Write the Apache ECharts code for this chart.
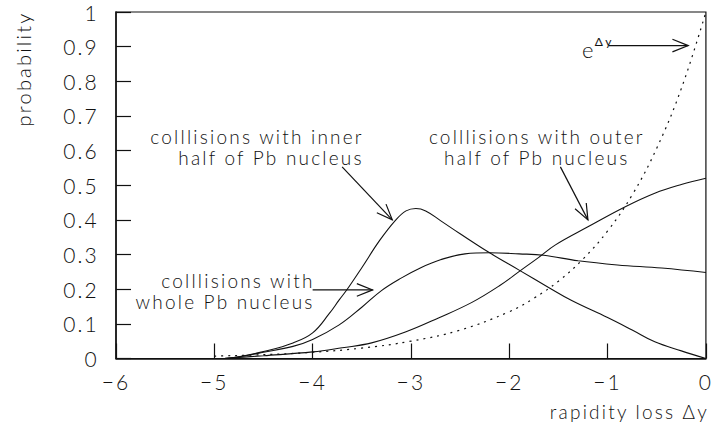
<!DOCTYPE html>
<html>
<head>
<meta charset="utf-8">
<script src="https://cdn.jsdelivr.net/npm/echarts@6/dist/echarts.min.js"></script>
<style>
  html, body { margin: 0; padding: 0; background: #fff; }
  #chart { width: 715px; height: 423px; }
  /* wide, airy lettering for every label */
  #chart svg text { letter-spacing: 2.2px; }
</style>
</head>
<body>
<div id="chart"></div>
<script>
// Rapidity-loss probability distributions for p+Pb collisions

// collisions with the inner half of the Pb nucleus
const innerX = [-4.9, -4.75, -4.5, -4.2, -4.0, -3.83, -3.73, -3.65, -3.5, -3.32, -3.16, -3.05, -2.95, -2.85, -2.7, -2.5, -2.2, -1.9, -1.6, -1.37, -1.0, -0.75, -0.52, -0.25, 0.0];
const innerY = [0.0, 0.005, 0.02, 0.045, 0.074, 0.13, 0.169, 0.199, 0.262, 0.34, 0.398, 0.426, 0.433, 0.426, 0.398, 0.36, 0.305, 0.255, 0.205, 0.168, 0.118, 0.082, 0.048, 0.022, 0.0];

// collisions with the whole Pb nucleus
const wholeX = [-4.9, -4.75, -4.5, -4.2, -4.0, -3.73, -3.5, -3.3, -3.1, -2.9, -2.7, -2.45, -2.2, -1.9, -1.65, -1.3, -0.9, -0.45, 0.0];
const wholeY = [0.0, 0.005, 0.018, 0.035, 0.055, 0.097, 0.148, 0.196, 0.232, 0.262, 0.285, 0.302, 0.305, 0.302, 0.298, 0.282, 0.27, 0.261, 0.248];

// collisions with the outer half of the Pb nucleus
const outerX = [-4.9, -4.5, -4.0, -3.7, -3.4, -3.05, -2.72, -2.38, -2.1, -1.88, -1.7, -1.53, -1.2, -0.82, -0.52, -0.25, 0.0];
const outerY = [0.0, 0.008, 0.019, 0.031, 0.045, 0.077, 0.117, 0.162, 0.21, 0.255, 0.292, 0.328, 0.38, 0.438, 0.477, 0.502, 0.52];

// reference curve e^Δy
const expX = [-5.0, -4.5, -4.0, -3.5, -3.0, -2.5, -2.0, -1.75, -1.5, -1.25, -1.0, -0.75, -0.5, -0.25, 0.0];
const expY = [0.007, 0.011, 0.018, 0.030, 0.050, 0.082, 0.135, 0.174, 0.223, 0.287, 0.368, 0.472, 0.607, 0.779, 1.0];

// axis ranges and tick steps
const xRange = [-6, 0];
const yRange = [0, 1];
const xStep = 1;
const yStep = 0.1;

const xTitle = 'rapidity loss \u0394y';
const yTitle = 'probability';

const FONT = 'Lato, "DejaVu Sans", sans-serif';
const INK = '#111';

const zip = (xs, ys) => xs.map((x, i) => [x, ys[i]]);

const chart = echarts.init(document.getElementById('chart'), null, { renderer: 'svg' });

const curve = (name, xs, ys, dashed) => ({
  name,
  type: 'line',
  data: zip(xs, ys),
  showSymbol: false,
  smooth: 0.4,
  lineStyle: { color: INK, width: dashed ? 1.2 : 1.1, type: dashed ? [2, 5] : 'solid' },
  z: 3,
  silent: true,
  animation: false
});

chart.setOption({
  animation: false,
  backgroundColor: '#fff',
  grid: { left: 116, right: 7, top: 12, bottom: 64.5, show: true, borderColor: INK, borderWidth: 1.2, backgroundColor: 'transparent' },
  xAxis: {
    type: 'value', min: xRange[0], max: xRange[1], interval: xStep,
    axisLine: { show: true, onZero: false, lineStyle: { color: INK, width: 1.5 } },
    axisTick: { show: true, inside: true, length: 15, lineStyle: { color: INK, width: 1.2 } },
    splitLine: { show: false },
    axisLabel: {
      margin: 12, color: INK, fontFamily: FONT, fontSize: 21, fontWeight: 300,
      formatter: v => (v < 0 ? '\u2212' + Math.abs(v) : String(v))
    }
  },
  yAxis: {
    type: 'value', min: yRange[0], max: yRange[1], interval: yStep,
    axisLine: { show: true, onZero: false, lineStyle: { color: INK, width: 1.5 } },
    axisTick: { show: true, inside: true, length: 15, lineStyle: { color: INK, width: 1.2 } },
    splitLine: { show: false },
    axisLabel: {
      margin: 17, color: INK, fontFamily: FONT, fontSize: 21, fontWeight: 300,
      formatter: v => {
        const r = Math.round(v * 10) / 10;
        return (r === 0 || r === 1) ? String(r) : r.toFixed(1);
      }
    }
  },
  series: [
    curve('inner', innerX, innerY, false),
    curve('whole', wholeX, wholeY, false),
    curve('outer', outerX, outerY, false),
    curve('exp', expX, expY, true)
  ]
});

// annotation anchors in data coordinates
const arrows = [
  { from: [-0.99, 0.903], to: [-0.18, 0.903] },   // e^Δy
  { from: [-3.70, 0.553], to: [-3.19, 0.400] },   // inner half
  { from: [-1.48, 0.553], to: [-1.20, 0.400] },   // outer half
  { from: [-4.00, 0.198], to: [-3.39, 0.198] }    // whole nucleus
];

const labels = [
  { at: [-3.48, 0.609], align: 'right', lines: ['colllisions with inner', 'half of Pb nucleus'] },
  { at: [-1.72, 0.609], align: 'center', lines: ['colllisions with outer', 'half of Pb nucleus'] },
  { at: [-3.98, 0.195], align: 'right', lines: ['colllisions with', 'whole Pb nucleus'] }
];

const px = p => chart.convertToPixel({ gridIndex: 0 }, p);

function arrowShapes(a) {
  const p0 = px(a.from), p1 = px(a.to);
  const ang = Math.atan2(p1[1] - p0[1], p1[0] - p0[0]);
  const L = 17, spread = 0.38;
  const h1 = [p1[0] - L * Math.cos(ang - spread), p1[1] - L * Math.sin(ang - spread)];
  const h2 = [p1[0] - L * Math.cos(ang + spread), p1[1] - L * Math.sin(ang + spread)];
  const style = { stroke: INK, lineWidth: 1.2, fill: null };
  return [
    { type: 'line', shape: { x1: p0[0], y1: p0[1], x2: p1[0], y2: p1[1] }, style, silent: true, z: 10 },
    { type: 'polyline', shape: { points: [h1, p1, h2] }, style, silent: true, z: 10 }
  ];
}

const graphics = [];
arrows.forEach(a => graphics.push(...arrowShapes(a)));

labels.forEach(l => {
  const p = px(l.at);
  graphics.push({
    type: 'text', x: p[0], y: p[1], silent: true, z: 10,
    style: {
      text: l.lines.join('\n'), fill: INK, font: '300 19px ' + FONT,
      align: l.align, verticalAlign: 'middle', lineHeight: 21
    }
  });
});

// e^Δy label: base letter plus raised exponent
const eAnchor = px([-1.12, 0.892]);
graphics.push({
  type: 'text', x: eAnchor[0], y: eAnchor[1], silent: true, z: 10,
  style: { text: 'e', fill: INK, font: '300 22px ' + FONT, align: 'right', verticalAlign: 'middle' }
});
graphics.push({
  type: 'text', x: eAnchor[0] - 1, y: eAnchor[1] - 8, silent: true, z: 10,
  style: { text: '\u0394y', fill: INK, font: '400 12px ' + FONT, align: 'left', verticalAlign: 'middle' }
});

// axis titles
graphics.push({
  type: 'text', x: 23, y: 69, rotation: Math.PI / 2, silent: true, z: 10,
  style: { text: yTitle, fill: INK, font: '300 20px ' + FONT, align: 'center', verticalAlign: 'middle' }
});
graphics.push({
  type: 'text', x: 709, y: 411, silent: true, z: 10,
  style: { text: xTitle, fill: INK, font: '300 19px ' + FONT, align: 'right', verticalAlign: 'middle' }
});

chart.setOption({ graphic: graphics });
</script>
</body>
</html>
